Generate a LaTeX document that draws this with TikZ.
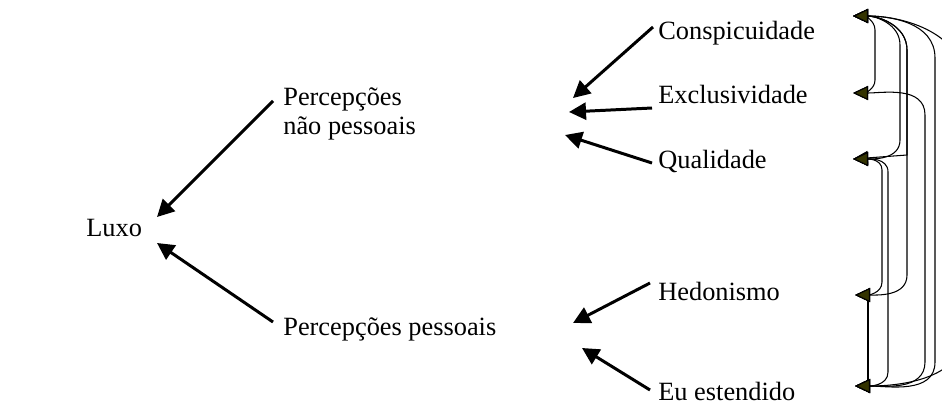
\documentclass[tikz,border=0pt]{standalone}
\usepackage{fontspec}
\setmainfont{Liberation Serif}
\usetikzlibrary{arrows.meta}
\definecolor{tipolive}{RGB}{51,51,0}

\begin{document}
\begin{tikzpicture}[
        x=0.02cm, y=-0.02cm,
        txt/.style={inner sep=0pt, font=\fontsize{15}{17}\selectfont},
        arrow/.style={-{Triangle[length=3.4mm, width=3.4mm]}, line width=1.7pt},
        corr/.style={{Triangle[length=3mm, width=2.8mm, fill=tipolive]}-{Triangle[length=3mm, width=2.8mm, fill=tipolive]},
                     line width=0.6pt},
    ]
        \useasboundingbox (0,0) rectangle (942,403);
        \clip (0,0) rectangle (942,403);

        % constructs
        \node[txt, anchor=base west] (luxo) at (86,236) {Luxo};
        \node[txt, anchor=north west, align=left] (pnp) at (283,87) {Percepções\\não pessoais};
        \node[txt, anchor=base west] (pp) at (283,335) {Percepções pessoais};
        \node[txt, anchor=base west] (cons) at (658,39) {Conspicuidade};
        \node[txt, anchor=base west] (excl) at (658,103) {Exclusividade};
        \node[txt, anchor=base west] (qual) at (658,168) {Qualidade};
        \node[txt, anchor=base west] (hedo) at (658,300) {Hedonismo};
        \node[txt, anchor=base west] (eu) at (658,400) {Eu estendido};

        % arrow ends
        \coordinate (luxo-a) at (157,217);
        \coordinate (luxo-b) at (157,243);
        \coordinate (pnp-a) at (573,98);
        \coordinate (pnp-b) at (569,112);
        \coordinate (pnp-c) at (565,135);
        \coordinate (pp-a) at (573,323);
        \coordinate (pp-b) at (582,348);

        \draw[arrow] ([shift={(-2mm,-2.8mm)}]pnp.north west) -- (luxo-a);
        \draw[arrow] ([shift={(-2mm,2.6mm)}]pp.base west) -- (luxo-b);
        \draw[arrow] ([shift={(-1mm,2.4mm)}]cons.base west) -- (pnp-a);
        \draw[arrow] ([shift={(-1.2mm,-1mm)}]excl.base west) -- (pnp-b);
        \draw[arrow] ([shift={(-1.2mm,1mm)}]qual.base west) -- (pnp-c);
        \draw[arrow] ([shift={(-1.6mm,3.4mm)}]hedo.base west) -- (pp-a);
        \draw[arrow] ([shift={(-1.6mm,2mm)}]eu.base west) -- (pp-b);

        % correlations on the right
        \coordinate (c-cons) at (853,16);
        \coordinate (c-excl) at (853,93);
        \coordinate (c-qual) at (853,159);
        \coordinate (c-hedo) at (855,295);
        \coordinate (c-eu) at (855,386);

        \draw[corr] (c-cons) to[out=0,in=90] (875,30) -- (875,80) to[out=-90,in=0] (c-excl);
        \draw[corr] (c-cons) to[out=0,in=90] (900,45) -- (900,140) to[out=-90,in=0] (c-qual);
        \draw[corr] (c-cons) to[out=0,in=90] (907,50) -- (907,155) -- (c-qual);
        \draw[corr] (c-cons) to[out=0,in=90] (907,50) -- (907,275) to[out=-90,in=0] (c-hedo);
        \draw[corr] (c-cons) to[out=0,in=90] (935,58) -- (935,362) to[out=-90,in=0] (c-eu);
        \draw[corr] (c-cons) to[out=0,in=90] (965,85) -- (965,330) to[out=-90,in=0] (c-eu);
        \draw[corr] (c-excl) to[out=0,in=90] (925,115) -- (925,362) to[out=-90,in=0] (c-eu);
        \draw[corr] (c-qual) to[out=0,in=90] (882,170) -- (882,282) to[out=-90,in=0] (c-hedo);
        \draw[corr] (c-qual) to[out=0,in=90] (888,172) -- (888,372) to[out=-90,in=0] (c-eu);
        \draw[corr] (c-hedo) -- (868,295) -- (868,386) -- (c-eu);
    \end{tikzpicture}
\end{document}
